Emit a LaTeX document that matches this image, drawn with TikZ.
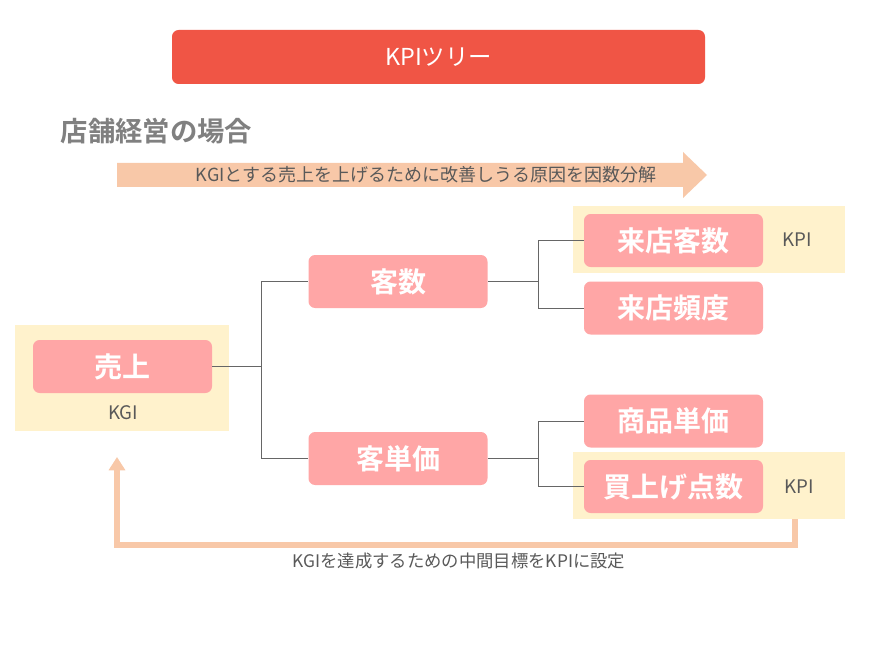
\documentclass[tikz,border=0pt]{standalone}
\usepackage{fontspec}
\setmainfont{Noto Sans CJK JP}[BoldFont={Noto Sans CJK JP Bold}]
\usetikzlibrary{arrows.meta}
\definecolor{titlered}{HTML}{F05545}
\definecolor{boxpink}{HTML}{FFA6A6}
\definecolor{bgyel}{HTML}{FFF2CC}
\definecolor{peach}{HTML}{F8C8A8}
\definecolor{txtgray}{HTML}{595959}
\begin{document}
\begin{tikzpicture}[x=0.75pt,y=-0.75pt,
  box/.style={fill=boxpink,rounded corners=5pt,minimum width=134.25pt,minimum height=39.75pt,text=white,font=\fontsize{21}{21}\selectfont\bfseries,inner sep=0pt},
  conn/.style={draw=black!60,line width=0.6pt},
  lab/.style={text=txtgray,font=\fontsize{14}{14}\selectfont}]
\useasboundingbox (0,0) rectangle (885,649);
\fill[white] (0,0) rectangle (885,649);
\node[fill=titlered,rounded corners=5pt,minimum width=399.75pt,minimum height=40.5pt,text=white,font=\fontsize{17.5}{17.5}\selectfont] (title) at (438.5,57) {KPIツリー};
\node[text=gray,font=\fontsize{20.5}{20.5}\selectfont\bfseries,anchor=west] (case) at (56,131) {店舗経営の場合};
\fill[peach] (117,163) -- (683,163) -- (683,152) -- (707,175) -- (683,198) -- (683,187) -- (117,187) -- cycle;
\node[text=txtgray,font=\fontsize{13.5}{13.5}\selectfont] (bandtxt) at (426,175) {KGIとする売上を上げるために改善しうる原因を因数分解};
% backgrounds
\fill[bgyel] (15,325) rectangle (229,431);
\fill[bgyel] (573,206) rectangle (845,273);
\fill[bgyel] (573,452) rectangle (845,519);
% nodes
\node[box] (uri) at (122.5,366.5) {売上};
\node[lab] (kgi) at (123,413) {KGI};
\node[box] (kyaku) at (398,281.5) {客数};
\node[box] (tanka) at (398,458.5) {客単価};
\node[box] (raiten) at (673.5,240.5) {来店客数};
\node[box] (hindo) at (673.5,308) {来店頻度};
\node[box] (shohin) at (673.5,421) {商品単価};
\node[box] (kaiage) at (673.5,486.5) {買上げ点数};
\node[lab] (kpi1) at (797,240) {KPI};
\node[lab] (kpi2) at (799,487) {KPI};
% connectors
\draw[conn] (uri.east) -- (261,366.5) |- (kyaku.west);
\draw[conn] (261,366.5) |- (tanka.west);
\draw[conn] (kyaku.east) -- (538,281.5) |- (raiten.west);
\draw[conn] (538,281.5) |- (hindo.west);
\draw[conn] (tanka.east) -- (538,458.5) |- (shohin.west);
\draw[conn] (538,458.5) |- (kaiage.west);
% bottom arrow
\coordinate (bstart) at (795,519);
\coordinate (bend) at (117,457);
\draw[peach,line width=3.8pt,-{Triangle[width=12pt,length=10pt]}] (bstart) |- (117,545) -- (bend);
\node[text=txtgray,font=\fontsize{13}{13}\selectfont] (btxt) at (459,561) {KGIを達成するための中間目標をKPIに設定};
\end{tikzpicture}
\end{document}
